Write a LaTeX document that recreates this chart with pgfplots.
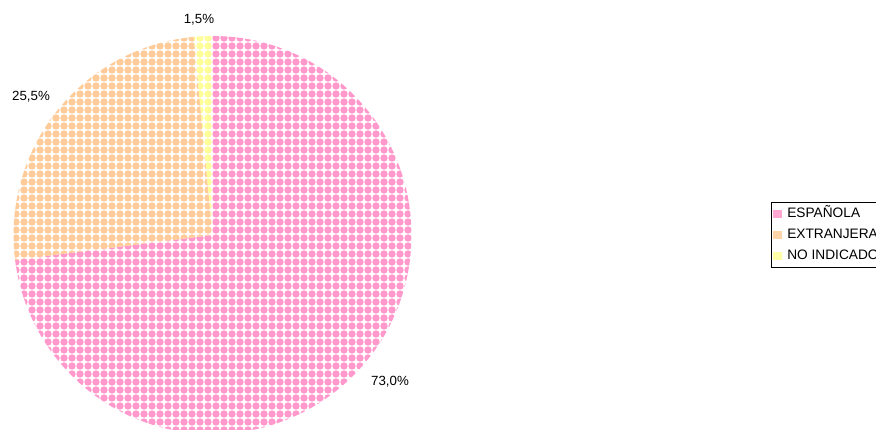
\documentclass[border=0pt]{standalone}
\usepackage{pgfplots}
\usepackage{pgfplotstable}
\pgfplotsset{compat=1.18}
\usetikzlibrary{patterns.meta}
\usepackage{fontspec}
\setmainfont{Liberation Sans}
\definecolor{cEsp}{HTML}{FF99CC}
\definecolor{cExt}{HTML}{FFCC99}
\definecolor{cNo}{HTML}{FFFF99}
\pgfplotstableread{
label value
ESPANOLA 73.0
EXTRANJERA 25.5
NOINDICADO 1.5
}\piedata
\pgfplotstablegetelem{0}{value}\of\piedata \let\va\pgfplotsretval
\pgfplotstablegetelem{1}{value}\of\piedata \let\vb\pgfplotsretval
\pgfplotstablegetelem{2}{value}\of\piedata \let\vc\pgfplotsretval
\pgfmathsetmacro\aA{90}
\pgfmathsetmacro\aB{90-3.6*\va}
\pgfmathsetmacro\aC{\aB-3.6*\vb}
\pgfmathsetmacro\aD{\aC-3.6*\vc}
\begin{document}
\begin{tikzpicture}
\clip (0,0) rectangle (876bp,430bp);
\begin{axis}[
  at={(0,0)}, anchor=south west,
  hide axis, scale only axis,
  x=1bp, y=1bp,
  xmin=0, xmax=876, ymin=0, ymax=430,
  clip=false,
  font=\fontsize{13.3bp}{15bp}\selectfont,
  legend style={
    at={(axis cs:771,227.5)}, anchor=north west,
    draw=black, line width=0.6pt, inner xsep=1bp, inner ysep=0.5bp,
    font=\fontsize{13.7bp}{15bp}\selectfont,
    nodes={text height=10bp, text depth=3bp, inner ysep=4bp, inner xsep=1bp},
    cells={anchor=west},
  },
  legend image code/.code={\path[draw=none, fill=none] (0bp,0bp) -- (14bp,0bp); \fill[#1, draw=none] (1bp,-4bp) rectangle (10bp,4bp);},
]
\addlegendimage{fill=cEsp!85}
\addlegendentry{ESPAÑOLA}
\addlegendimage{fill=cExt!85}
\addlegendentry{EXTRANJERA}
\addlegendimage{fill=cNo!85}
\addlegendentry{NO INDICADO}
\fill[white] (axis cs:212.5,195) circle[radius=199bp];
\fill[fill=white, pattern={Dots[distance=8bp, radius=3.7bp]}, pattern color=cEsp]
  (axis cs:212.5,195) -- ++(\aA:199bp) arc[start angle=\aA, end angle=\aB, radius=199bp] -- cycle;
\fill[fill=white, pattern={Dots[distance=8bp, radius=3.7bp]}, pattern color=cExt]
  (axis cs:212.5,195) -- ++(\aB:199bp) arc[start angle=\aB, end angle=\aC, radius=199bp] -- cycle;
\fill[fill=white, pattern={Dots[distance=8bp, radius=3.7bp]}, pattern color=cNo]
  (axis cs:212.5,195) -- ++(\aC:199bp) arc[start angle=\aC, end angle=\aD, radius=199bp] -- cycle;
\node at (axis cs:199,410) {1,5\%};
\node at (axis cs:31,333) {25,5\%};
\node at (axis cs:390,48) {73,0\%};
\end{axis}
\end{tikzpicture}
\end{document}
